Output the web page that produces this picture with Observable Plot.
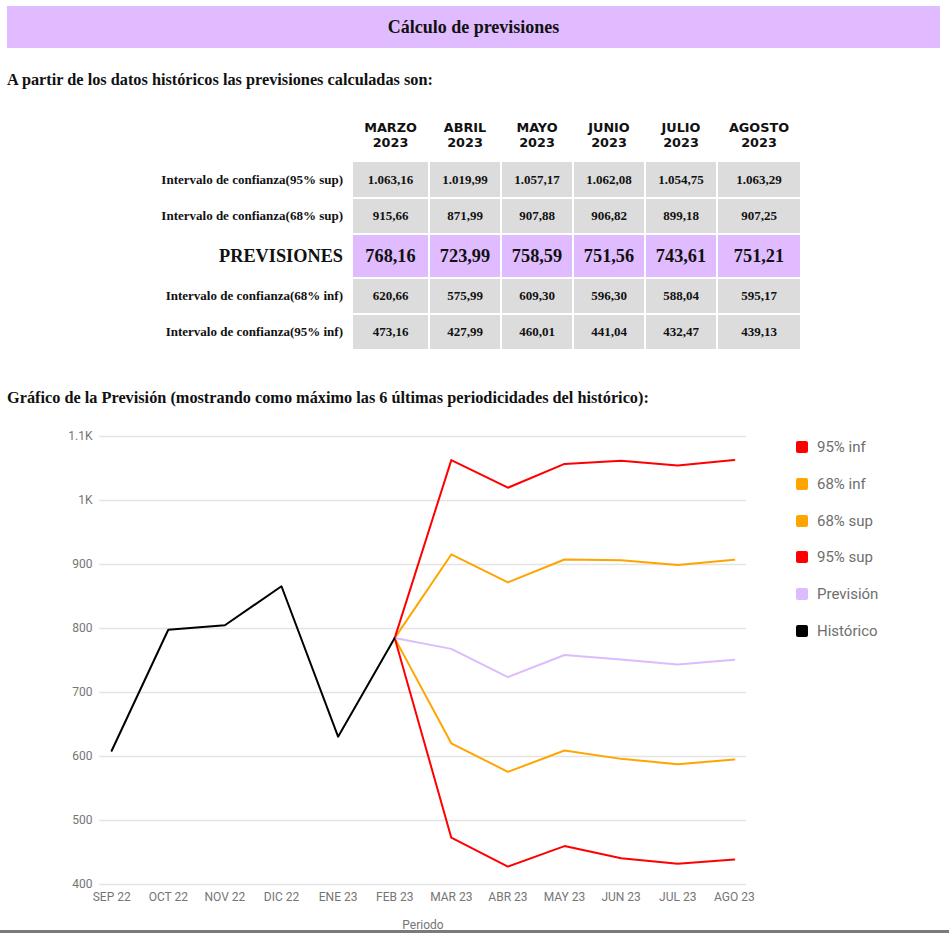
<!DOCTYPE html>
<html>
<head>
<meta charset="utf-8">
<script src="https://cdn.jsdelivr.net/npm/d3@7"></script>
<script src="https://cdn.jsdelivr.net/npm/@observablehq/plot@0.6"></script>
<style>
  body { margin: 0; width: 949px; height: 933px; position: relative; overflow: hidden; background: #fff; font-family: "Liberation Serif", serif; }
  .abs { position: absolute; }
  #titlebar { left: 7px; top: 6px; width: 933px; height: 42px; background: #e0bbff; font-weight: bold; font-size: 18px; display: flex; align-items: center; justify-content: center; color: #111; }
  .heading { left: 7px; font-weight: bold; font-size: 16.3px; color: #111; white-space: nowrap; }
  table { border-collapse: separate; border-spacing: 2px; }
  th { font-family: "DejaVu Sans", sans-serif; font-weight: bold; font-size: 12.8px; line-height: 15px; height: 40px; vertical-align: top; padding: 2px 0 0 0; color: #111; }
  td { font-weight: bold; font-size: 13px; text-align: center; padding: 0; color: #111; }
  td.val { background: #dcdcdc; }
  td.lab { text-align: right; padding-right: 8px; white-space: nowrap; }
  tr.prev td { font-size: 18.3px; }
  tr.prev td.val { background: #e0bbff; }
  .leg { left: 796px; font-family: Roboto, sans-serif; font-size: 15px; color: #6e6e6e; height: 16px; }
  .leg span.sw { position: absolute; left: 0; top: 0; width: 12px; height: 12px; border-radius: 2px; }
  .leg span.tx { position: absolute; left: 21px; top: -3px; white-space: nowrap; }
</style>
</head>
<body>
<script>
// ---- Data ----
const tableMonths = ["MARZO", "ABRIL", "MAYO", "JUNIO", "JULIO", "AGOSTO"];
const tableYear = "2023";
const sup95 = [1063.16, 1019.99, 1057.17, 1062.08, 1054.75, 1063.29];
const sup68 = [915.66, 871.99, 907.88, 906.82, 899.18, 907.25];
const prevision = [768.16, 723.99, 758.59, 751.56, 743.61, 751.21];
const inf68 = [620.66, 575.99, 609.30, 596.30, 588.04, 595.17];
const inf95 = [473.16, 427.99, 460.01, 441.04, 432.47, 439.13];

const months = ["SEP 22", "OCT 22", "NOV 22", "DIC 22", "ENE 23", "FEB 23", "MAR 23", "ABR 23", "MAY 23", "JUN 23", "JUL 23", "AGO 23"];
const historico = [609, 798, 805, 866, 631, 785];
const yTicks = [400, 500, 600, 700, 800, 900, 1000, 1100];
const yTickLabels = ["400", "500", "600", "700", "800", "900", "1K", "1.1K"];

const rowLabels = ["Intervalo de confianza(95% sup)", "Intervalo de confianza(68% sup)", "PREVISIONES", "Intervalo de confianza(68% inf)", "Intervalo de confianza(95% inf)"];
const rowValues = [sup95, sup68, prevision, inf68, inf95];

const legendNames = ["95% inf", "68% inf", "68% sup", "95% sup", "Previsión", "Histórico"];
const legendColors = ["#ff0000", "#ffa500", "#ffa500", "#ff0000", "#dcbcff", "#000000"];

// ---- Page text ----
const body = document.body;
function addDiv(cls, id, top, html) {
  const d = document.createElement("div");
  d.className = "abs " + cls;
  if (id) d.id = id;
  d.style.top = top + "px";
  d.innerHTML = html;
  body.appendChild(d);
  return d;
}
addDiv("", "titlebar", 6, "Cálculo de previsiones");
addDiv("heading", null, 70, "A partir de los datos históricos las previsiones calculadas son:");
addDiv("heading", null, 388, "Gráfico de la Previsión (mostrando como máximo las 6 últimas periodicidades del histórico):");

// ---- Table ----
const fmt = d3.formatLocale({decimal: ",", thousands: ".", grouping: [3], currency: ["", ""]}).format(",.2f");
const table = document.createElement("table");
table.className = "abs";
table.style.left = "138px";
table.style.top = "116px";
const colW = [211, 75, 70, 70, 70, 70, 82];
const cg = document.createElement("colgroup");
colW.forEach(w => { const c = document.createElement("col"); c.style.width = w + "px"; cg.appendChild(c); });
table.appendChild(cg);
const hr = document.createElement("tr");
hr.appendChild(document.createElement("th"));
tableMonths.forEach(m => { const th = document.createElement("th"); th.innerHTML = m + "<br>" + tableYear; hr.appendChild(th); });
table.appendChild(hr);
const rowH = [35, 34, 42, 34, 34];
rowValues.forEach((vals, i) => {
  const tr = document.createElement("tr");
  if (i === 2) tr.className = "prev";
  tr.style.height = rowH[i] + "px";
  const tl = document.createElement("td");
  tl.className = "lab";
  tl.textContent = rowLabels[i];
  tr.appendChild(tl);
  vals.forEach(v => { const td = document.createElement("td"); td.className = "val"; td.textContent = fmt(v); tr.appendChild(td); });
  table.appendChild(tr);
});
body.appendChild(table);

// ---- Chart ----
const fcMonths = months.slice(5);
const lastHist = historico[historico.length - 1];
function fc(arr) { return [lastHist, ...arr].map((v, i) => ({x: fcMonths[i], y: v})); }
const histData = historico.map((v, i) => ({x: months[i], y: v}));
const series = [
  {data: fc(sup68), color: legendColors[2]},
  {data: fc(inf68), color: legendColors[1]},
  {data: fc(sup95), color: legendColors[3]},
  {data: fc(inf95), color: legendColors[0]},
  {data: fc(prevision), color: legendColors[4]},
  {data: histData, color: legendColors[5]}
];

const chart = Plot.plot({
  width: 949,
  height: 518,
  marginLeft: 99,
  marginRight: 203,
  marginTop: 21,
  marginBottom: 49,
  style: {fontFamily: "Roboto, sans-serif", fontSize: "12px", color: "#757575", background: "transparent"},
  x: {type: "point", domain: months, padding: 0.215, round: false},
  y: {domain: [400, 1100]},
  marks: [
    Plot.gridY(yTicks, {stroke: "#e4e4e4", strokeOpacity: 1, strokeWidth: 1.5}),
    Plot.axisY(yTicks, {tickSize: 0, tickPadding: 7, tickFormat: (d) => yTickLabels[yTicks.indexOf(d)], label: null, fontSize: 12, fill: "#757575"}),
    Plot.axisX({tickSize: 0, tickPadding: 8, fontSize: 12, fill: "#757575", label: "Periodo", labelAnchor: "center", labelOffset: 44}),
    ...series.map(s => Plot.line(s.data, {x: "x", y: "y", stroke: s.color, strokeWidth: 2}))
  ]
});
chart.style.position = "absolute";
chart.style.left = "0px";
chart.style.top = "415px";
body.appendChild(chart);

// ---- Legend ----
legendNames.forEach((name, i) => {
  const d = addDiv("leg", null, 441 + i * 36.8, "");
  const sw = document.createElement("span");
  sw.className = "sw";
  sw.style.background = legendColors[i];
  const tx = document.createElement("span");
  tx.className = "tx";
  tx.textContent = name;
  d.appendChild(sw);
  d.appendChild(tx);
});

// bottom edge line
const edge = document.createElement("div");
edge.className = "abs";
edge.style.cssText = "left:0;top:930px;width:949px;height:3px;background:#7a7a7a;z-index:5;";
body.appendChild(edge);
</script>
</body>
</html>
